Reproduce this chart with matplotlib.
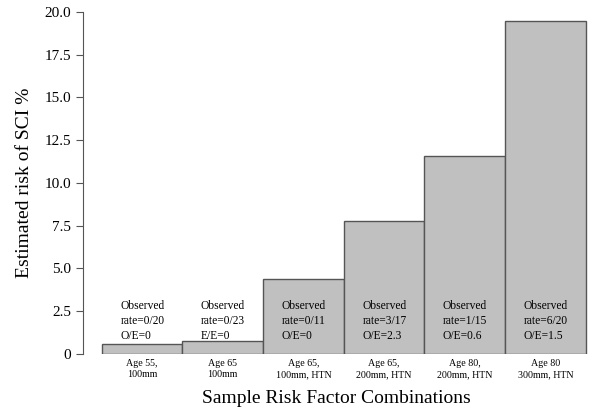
import matplotlib.pyplot as plt
import matplotlib.ticker as ticker

plt.rcParams['font.family'] = ['Liberation Serif', 'DejaVu Serif']

groups = ['Age 55,\n100mm', 'Age 65\n100mm', 'Age 65,\n100mm, HTN',
          'Age 65,\n200mm, HTN', 'Age 80,\n200mm, HTN', 'Age 80\n300mm, HTN']
risk = [0.6, 0.75, 4.4, 7.8, 11.6, 19.5]
notes = ['Observed\nrate=0/20\nO/E=0', 'Observed\nrate=0/23\nE/E=0',
         'Observed\nrate=0/11\nO/E=0', 'Observed\nrate=3/17\nO/E=2.3',
         'Observed\nrate=1/15\nO/E=0.6', 'Observed\nrate=6/20\nO/E=1.5']

fig = plt.figure(figsize=(6, 4.13), dpi=100)
ax = fig.add_axes([0.138, 0.143, 0.845, 0.828])

x = list(range(len(groups)))
ax.bar(x, risk, width=1.0, color='#c0c0c0', edgecolor='#555555', linewidth=1.0)

# annotations inside / above the bars
for i, t in enumerate(notes):
    ax.text(i - 0.27, 3.15, t, fontsize=8.3, va='top', ha='left', linespacing=1.35)

ax.set_xlim(-0.735, 5.55)
ax.set_ylim(0, 20)
ax.set_xticks(x)
ax.set_xticklabels(groups, fontsize=7.2)
ax.tick_params(axis='x', length=0, pad=4)
ax.set_yticks([0, 2.5, 5, 7.5, 10, 12.5, 15, 17.5, 20])
ax.yaxis.set_major_formatter(ticker.FuncFormatter(lambda v, p: '0' if v == 0 else '%.1f' % v))
ax.tick_params(axis='y', labelsize=11, length=5, color='#555555')

for s in ['top', 'right', 'bottom']:
    ax.spines[s].set_visible(False)
ax.spines['left'].set_color('#555555')

ax.set_ylabel('Estimated risk of SCI %', fontsize=14, labelpad=8)
ax.set_xlabel('Sample Risk Factor Combinations', fontsize=14, labelpad=8)

fig.savefig('out.png', dpi=100)
